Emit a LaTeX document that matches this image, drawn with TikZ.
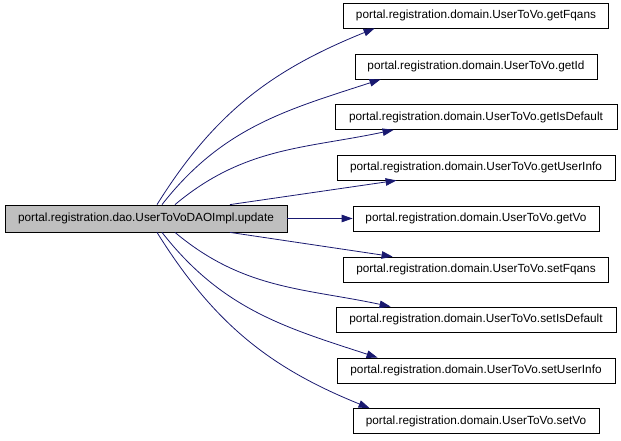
\documentclass[tikz,border=0pt]{standalone}
\usepackage{fontspec}
\setmainfont{Liberation Sans}
\usetikzlibrary{arrows.meta}
\definecolor{callblue}{HTML}{191970}
\definecolor{mainfill}{HTML}{BFBFBF}
\begin{document}
\begin{tikzpicture}[x=1pt, y=1pt,
    fn/.style={draw, line width=0.8pt, minimum height=25pt, inner xsep=2pt, inner ysep=0pt, font=\fontsize{11.8}{13}\selectfont},
    callarrow/.style={draw=callblue, color=callblue, line width=0.8pt, -{Triangle[length=11pt,width=7.5pt]}}]
            \useasboundingbox (0,0) rectangle (621,440);
            % Funcion que llama
            \node[fn, fill=mainfill, minimum width=282pt, minimum height=27pt] (main) at (146,221.5) {portal.registration.dao.UserToVoDAOImpl.update};
            % Funciones llamadas
            \node[fn, minimum width=265pt] (fqans) at (476,424.5) {portal.registration.domain.UserToVo.getFqans};
            \node[fn, minimum width=242pt] (id) at (476,373.5) {portal.registration.domain.UserToVo.getId};
            \node[fn, minimum width=282pt] (isdef) at (476,323) {portal.registration.domain.UserToVo.getIsDefault};
            \node[fn, minimum width=278pt] (uinfo) at (476,272.5) {portal.registration.domain.UserToVo.getUserInfo};
            \node[fn, minimum width=246pt] (vo) at (476,221.5) {portal.registration.domain.UserToVo.getVo};
            \node[fn, minimum width=265pt] (sfqans) at (476,170.5) {portal.registration.domain.UserToVo.setFqans};
            \node[fn, minimum width=280pt] (sisdef) at (476,120.5) {portal.registration.domain.UserToVo.setIsDefault};
            \node[fn, minimum width=278pt] (suinfo) at (476,69.5) {portal.registration.domain.UserToVo.setUserInfo};
            \node[fn, minimum width=246pt] (svo) at (476,19) {portal.registration.domain.UserToVo.setVo};
            % Llamadas hacia arriba
            \draw[callarrow] ([xshift=11pt]main.north) to[out=58, in=202] ([xshift=31.5pt]fqans.south west);
            \draw[callarrow] ([xshift=16pt]main.north) to[out=52, in=198] ([xshift=26pt]id.south west);
            \draw[callarrow] ([xshift=29pt]main.north) to[out=40, in=192] ([xshift=59pt]isdef.south west);
            \draw[callarrow] ([xshift=84pt]main.north) -- ([xshift=60pt]uinfo.south west);
            % Llamada directa
            \draw[callarrow] (main.east) -- (vo.west);
            % Llamadas hacia abajo
            \draw[callarrow] ([xshift=84pt]main.south) -- ([xshift=49.5pt]sfqans.north west);
            \draw[callarrow] ([xshift=29pt]main.south) to[out=-40, in=168] ([xshift=55pt]sisdef.north west);
            \draw[callarrow] ([xshift=16pt]main.south) to[out=-52, in=162] ([xshift=41pt]suinfo.north west);
            \draw[callarrow] ([xshift=11pt]main.south) to[out=-58, in=158] ([xshift=17pt]svo.north west);
        \end{tikzpicture}
\end{document}
